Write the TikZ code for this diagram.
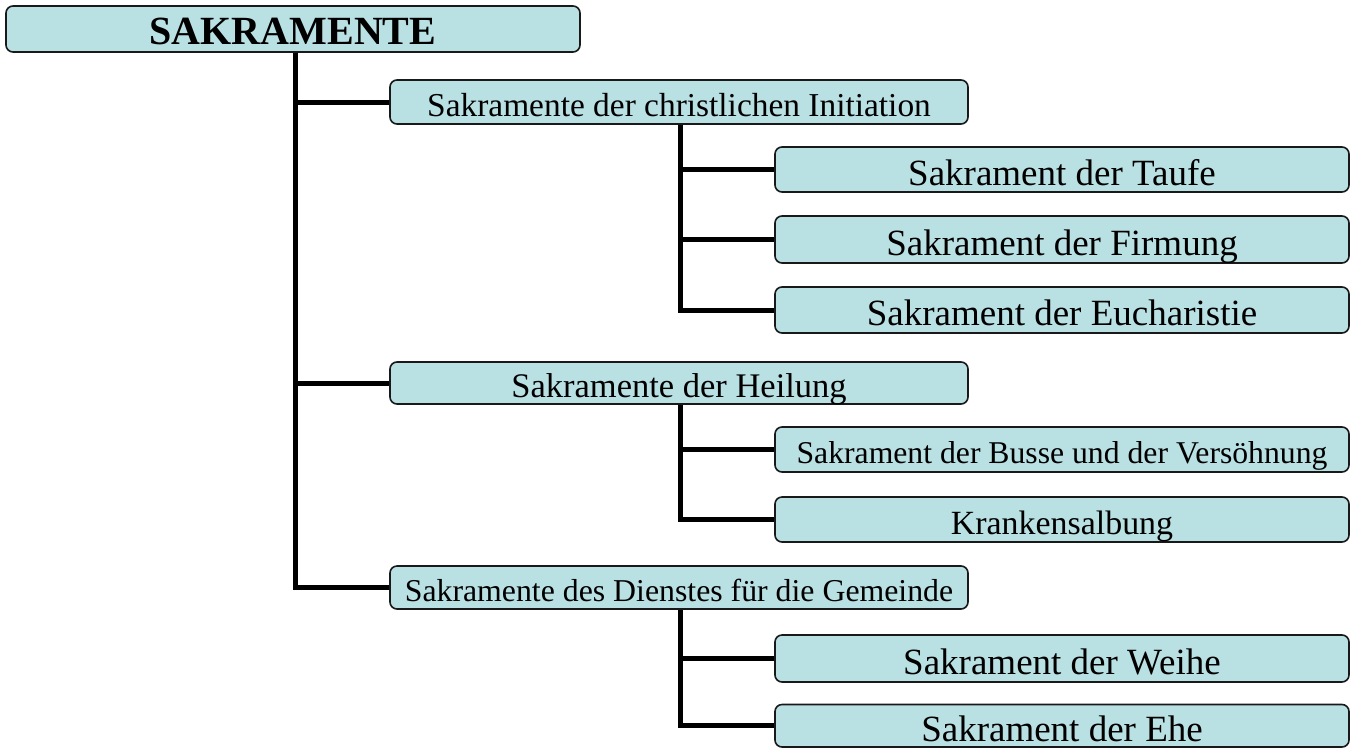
\documentclass[tikz,border=0pt]{standalone}
\usepackage{fontspec}
\setmainfont{Liberation Serif}
\definecolor{boxfill}{RGB}{185,224,227}
\definecolor{boxline}{RGB}{25,25,25}
\newcommand{\fs}[1]{\fontsize{#1}{#1}\selectfont}
\begin{document}
\begin{tikzpicture}[x=1pt,y=-1pt,
  box/.style={draw=boxline, line width=1.6pt, fill=boxfill, rounded corners=7pt,
    inner sep=0pt, text height=31pt, text depth=0pt, anchor=center},
  lvlone/.style={box, minimum width=578pt, text height=28pt},
  lvltwo/.style={box, minimum width=574pt},
  conn/.style={draw=black, line width=5pt, line join=miter}]
\useasboundingbox (0,0) rectangle (1357,748);

% top of the tree
\node[box, minimum width=574pt, minimum height=46pt, font=\fs{40}\bfseries] (root) at (293,29) {SAKRAMENTE};

% three groups of sacraments
\node[lvlone, minimum height=44pt, font=\fs{33.4}] (ini) at (679,102) {Sakramente der christlichen Initiation};
\node[lvlone, minimum height=42pt, font=\fs{34.5}] (heil) at (679,383) {Sakramente der Heilung};
\node[lvlone, minimum height=43pt, font=\fs{31.8}] (dienst) at (679,587.5) {Sakramente des Dienstes für die Gemeinde};

% single sacraments
\node[lvltwo, minimum height=45pt, font=\fs{37}] (taufe) at (1062,169.5) {Sakrament der Taufe};
\node[lvltwo, minimum height=47pt, font=\fs{37}] (firm) at (1062,239.5) {Sakrament der Firmung};
\node[lvltwo, minimum height=46pt, font=\fs{37}] (euch) at (1062,310) {Sakrament der Eucharistie};
\node[lvltwo, minimum height=45pt, font=\fs{31.7}, text height=28pt] (busse) at (1062,449.5) {Sakrament der Busse und der Versöhnung};
\node[lvltwo, minimum height=45pt, font=\fs{33.9}, text height=29pt] (kranken) at (1062,519.5) {Krankensalbung};
\node[lvltwo, minimum height=47pt, font=\fs{37}] (weihe) at (1062,658.5) {Sakrament der Weihe};
\node[lvltwo, minimum height=42.5pt, font=\fs{37}, text height=32pt] (ehe) at (1062,725.75) {Sakrament der Ehe};

% connectors: one trunk per parent, a branch to each child
\coordinate (stem) at ([xshift=2pt]root.south);
\draw[conn] (stem) |- (ini.west);
\draw[conn] (stem) |- (heil.west);
\draw[conn] (stem) |- (dienst.west);

\coordinate (inistem) at ([xshift=1pt]ini.south);
\draw[conn] (inistem) |- (taufe.west);
\draw[conn] (inistem) |- (firm.west);
\draw[conn] (inistem) |- (euch.west);

\coordinate (heilstem) at ([xshift=1pt]heil.south);
\draw[conn] (heilstem) |- (busse.west);
\draw[conn] (heilstem) |- (kranken.west);

\coordinate (dienststem) at ([xshift=1pt]dienst.south);
\draw[conn] (dienststem) |- (weihe.west);
\draw[conn] (dienststem) |- (ehe.west);
\end{tikzpicture}
\end{document}
